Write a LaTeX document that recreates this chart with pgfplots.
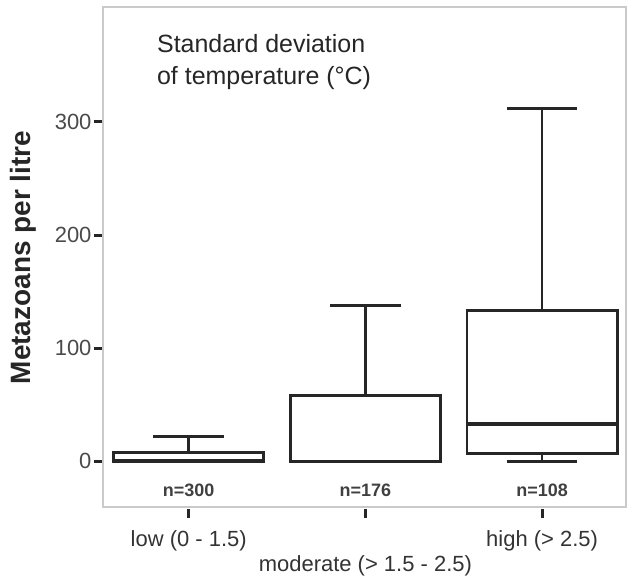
\documentclass[border=0pt]{standalone}
\usepackage{fontspec}
\setmainfont{Liberation Sans}
\usepackage{pgfplots}
\pgfplotsset{compat=1.18}
\usepgfplotslibrary{statistics}
\definecolor{framegray}{HTML}{CACACA}
\definecolor{ticklab}{HTML}{4A4A4A}
\begin{document}
\begin{tikzpicture}
\begin{axis}[
  scale only axis, width=262pt, height=250.5pt,
  xmin=-0.486, xmax=2.475, ymin=-40.6, ymax=401.6,
  clip=false,
  axis line style={framegray, line width=0.9pt},
  xtick={0,1,2}, xticklabels={low (0 - 1.5),,high (> 2.5)},
  ytick={0,100,200,300},
  tick align=outside, xtick pos=bottom, ytick pos=left,
  major tick length=4.5pt,
  xtick style={black!85, line width=1.5pt, yshift=-1pt},
  ytick style={black!85, line width=1.5pt},
  /pgf/number format/assume math mode=true,
  yticklabel style={font=\fontsize{11}{12}\selectfont, text=ticklab, inner sep=1pt},
  xticklabel style={font=\fontsize{11}{12}\selectfont, text=black!80, anchor=center, yshift=-12.5pt},
  ylabel={Metazoans per litre},
  ylabel style={font=\bfseries\fontsize{14}{16}\selectfont, text=black!85, at={(axis description cs:-0.153,0.499)}, anchor=center},
  boxplot/draw direction=y,
  boxplot/box extend=0.85,
  boxplot/whisker extend=0.40,
  boxplot/every box/.style={draw=black!85, line width=1.4pt, fill=white},
  boxplot/every whisker/.style={draw=black!85, line width=1.4pt},
  boxplot/every median/.style={draw=black!85, line width=1.7pt},
]
\addplot+[mark=none, black, boxplot prepared={draw position=0,
  lower whisker=0, lower quartile=0, median=0.5, upper quartile=8, upper whisker=22}]
  coordinates {};
\addplot+[mark=none, black, boxplot prepared={draw position=1,
  lower whisker=0, lower quartile=0, median=0, upper quartile=58, upper whisker=138}]
  coordinates {};
\addplot+[mark=none, black, boxplot prepared={draw position=2,
  lower whisker=0, lower quartile=7, median=33, upper quartile=133, upper whisker=312}]
  coordinates {};
\node[font=\bfseries\fontsize{9}{10}\selectfont, text=black!75] at (axis cs:0,-25.6) {n=300};
\node[font=\bfseries\fontsize{9}{10}\selectfont, text=black!75] at (axis cs:1,-25.6) {n=176};
\node[font=\bfseries\fontsize{9}{10}\selectfont, text=black!75] at (axis cs:2,-25.6) {n=108};
\node[anchor=base west, inner sep=0pt, font=\fontsize{12.5}{16}\selectfont, text=black!85]
  at (rel axis cs:0.103,1) [yshift=-23pt] {Standard deviation};
\node[anchor=base west, inner sep=0pt, font=\fontsize{12.5}{16}\selectfont, text=black!85]
  at (rel axis cs:0.103,1) [yshift=-39pt] {of temperature (°C)};
\node[font=\fontsize{11}{12}\selectfont, text=black!80, anchor=center] at (axis cs:1,-40.6) [yshift=-29.5pt] {moderate (> 1.5 - 2.5)};
\coordinate (bl) at (rel axis cs:0,0);
\coordinate (tr) at (rel axis cs:1,1);
\end{axis}
\pgfresetboundingbox
\path ([xshift=-51.5pt,yshift=-34pt]bl) rectangle ([xshift=0.5pt,yshift=3.5pt]tr);
\end{tikzpicture}
\end{document}
